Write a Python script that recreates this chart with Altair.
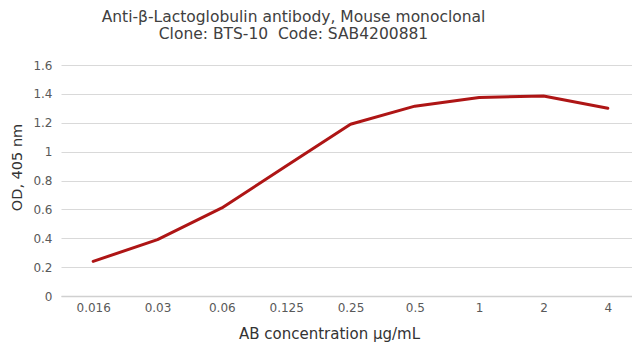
import altair as alt
import pandas as pd

concentrations = ["0.016", "0.03", "0.06", "0.125", "0.25", "0.5", "1", "2", "4"]
od_values = [0.24, 0.39, 0.61, 0.90, 1.19, 1.315, 1.375, 1.385, 1.30]
y_ticks = [0, 0.2, 0.4, 0.6, 0.8, 1.0, 1.2, 1.4, 1.6]
title_lines = ["Anti-β-Lactoglobulin antibody, Mouse monoclonal", "Clone: BTS-10\u00a0 Code: SAB4200881"]

df = pd.DataFrame({"conc": concentrations, "od": od_values})

FONT = "DejaVu Sans"

chart = alt.Chart(df).mark_line(color="#AE1515", strokeWidth=3, strokeCap="round", strokeJoin="round").encode(
    x=alt.X("conc:N", sort=concentrations,
            scale=alt.Scale(type="point", padding=0.5, range=[0, 579]),
            axis=alt.Axis(title="AB concentration μg/mL", labelAngle=0, ticks=False,
                          grid=False, domain=True, domainColor="#D0D0D0", domainWidth=1.5,
                          labelPadding=6, labelFontSize=12, labelColor="#595959", labelFont=FONT,
                          titleFont=FONT, titleFontSize=15, titleFontWeight="normal",
                          titleColor="#333333", titleX=268, titleY=37, titleBaseline="middle")),
    y=alt.Y("od:Q", scale=alt.Scale(domain=[0, 1.6]),
            axis=alt.Axis(title="OD, 405 nm", values=y_ticks, format="~g", ticks=False,
                          domain=False, grid=True, gridColor="#D9D9D9", gridWidth=1,
                          labelPadding=9, labelFontSize=12, labelColor="#595959", labelFont=FONT,
                          titleFont=FONT, titleFontSize=14.5, titleFontWeight="normal",
                          titleColor="#333333", titleAngle=270, titleX=-44, titleY=102,
                          titleBaseline="middle")),
).properties(
    width=571,
    height=231,
    autosize=alt.AutoSizeParams(type="none"),
    padding={"left": 53, "top": 57, "right": 0, "bottom": 49},
    title=alt.TitleParams(text=title_lines, font=FONT, fontSize=15.5, fontWeight="normal",
                          color="#404040", anchor="middle", frame="group", dx=-53,
                          baseline="bottom", offset=2, lineHeight=17),
).configure_view(stroke=None)

chart.save("out.html", embed_options={"renderer": "svg", "actions": False})
